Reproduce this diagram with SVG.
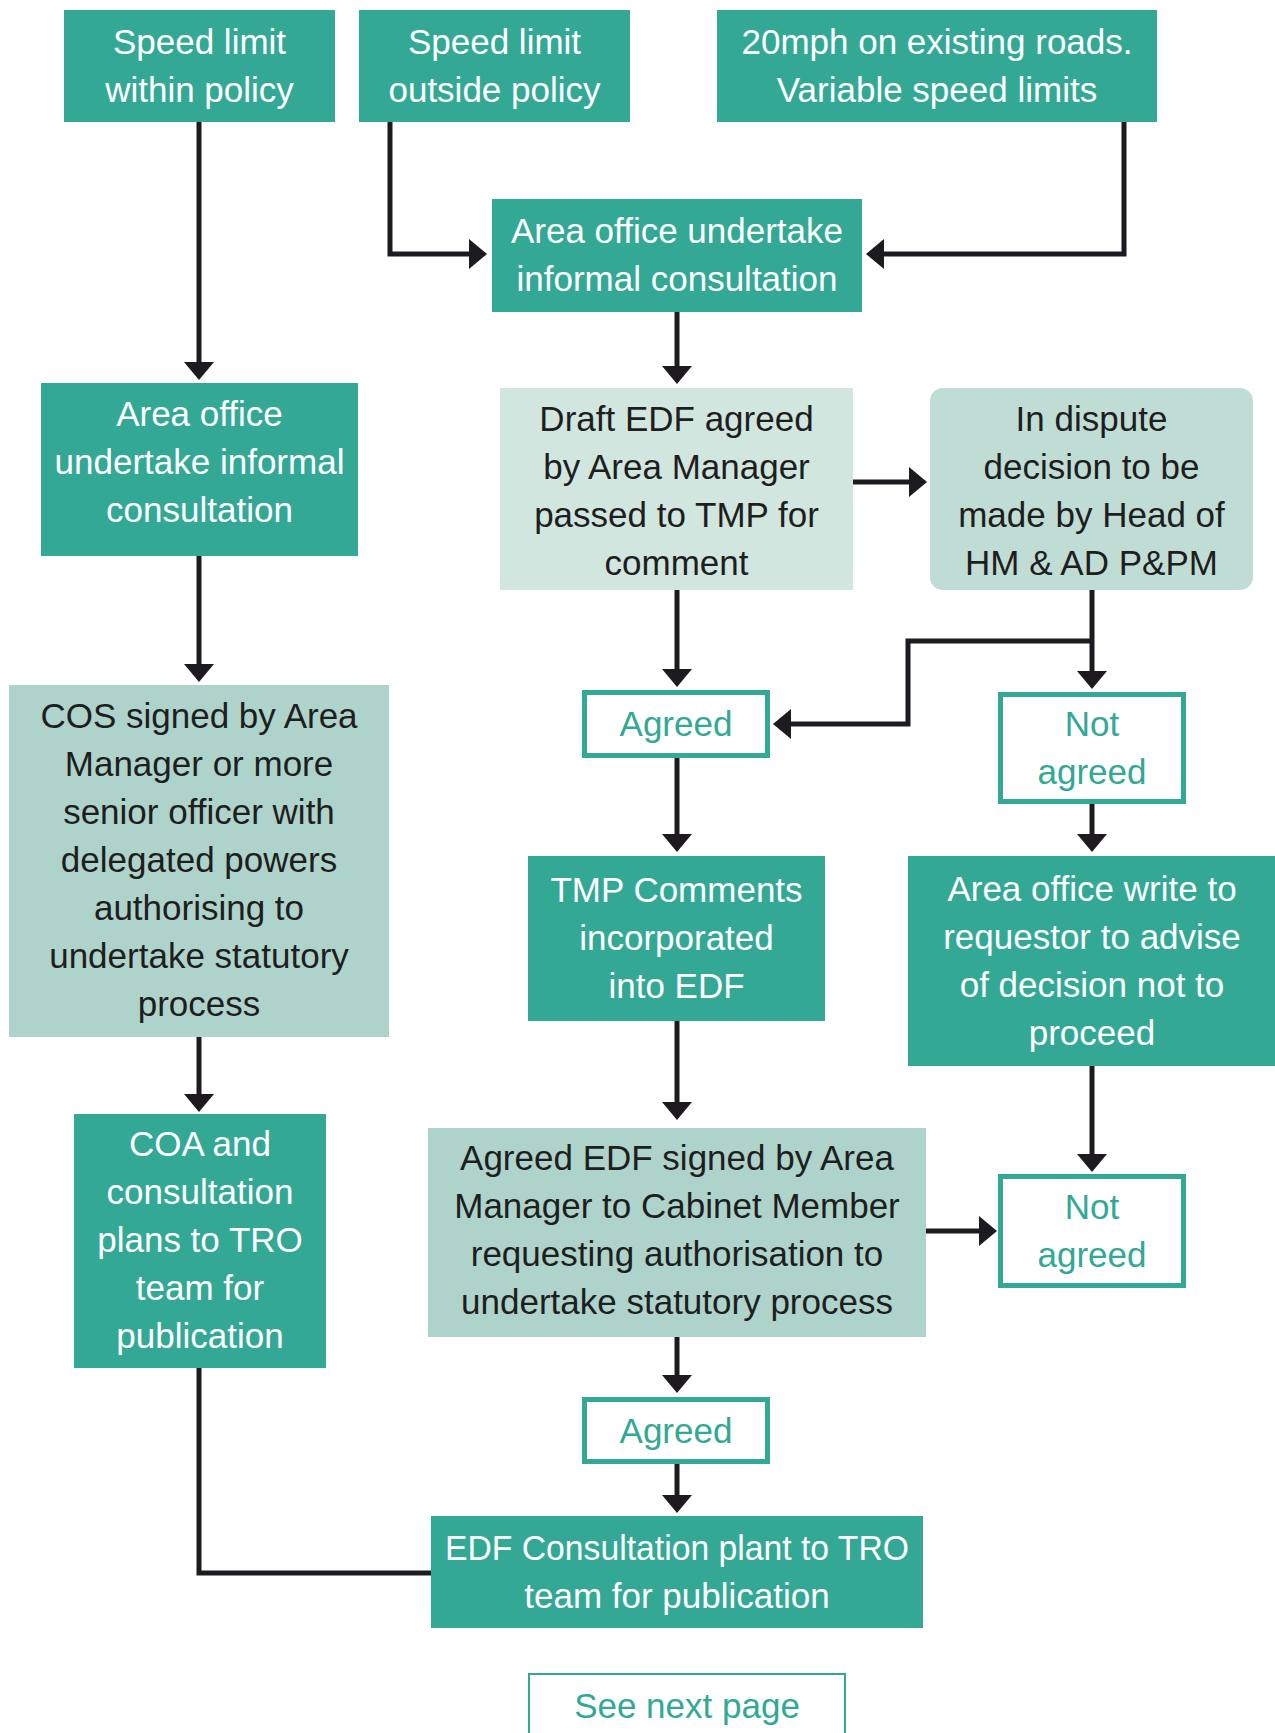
<svg xmlns="http://www.w3.org/2000/svg" width="1275" height="1733" viewBox="0 0 1275 1733">
<style>
.t{font-family:"Liberation Sans",Arial,sans-serif;font-size:35px;text-anchor:middle}
.w{fill:#ffffff}
.d{fill:#1e1e1e}
.g{fill:#33a995}
.teal{fill:#33a995}
.l1{fill:#d2e6e0}
.l2{fill:#c0ddd5}
.l3{fill:#aed3ca}
.ob{fill:#ffffff;stroke:#33a995;stroke-width:5}
.c{fill:none;stroke:#1d1b20;stroke-width:5;stroke-linejoin:miter;stroke-linecap:butt}
.a{marker-end:url(#ah)}
</style>
<defs>
<marker id="ah" markerUnits="userSpaceOnUse" markerWidth="19" markerHeight="30" refX="1" refY="15" orient="auto" viewBox="0 0 19 30">
<path d="M0,0 L18,15 L0,30 Z" fill="#1d1b20"/>
</marker>
</defs>
<rect width="1275" height="1733" fill="#ffffff"/>
<g id="connectors">
<path class="c a" d="M199,122 V363"/>
<path class="c a" d="M390,122 V254 H470"/>
<path class="c a" d="M1124,122 V254 H883"/>
<path class="c a" d="M677,312 V367"/>
<path class="c a" d="M853,482 H910"/>
<path class="c a" d="M199,556 V665"/>
<path class="c a" d="M677,590 V670"/>
<path class="c a" d="M1092,590 V672"/>
<path class="c a" d="M1092,641 H908 V724 H790"/>
<path class="c a" d="M677,758 V835"/>
<path class="c a" d="M1092,804 V835"/>
<path class="c a" d="M199,1037 V1095"/>
<path class="c a" d="M677,1021 V1103"/>
<path class="c a" d="M1092,1066 V1155"/>
<path class="c a" d="M926,1231 H980"/>
<path class="c a" d="M677,1337 V1376"/>
<path class="c a" d="M677,1464 V1496"/>
<path class="c" d="M199,1368 V1573 H431"/>
</g>
<g id="n1"><rect class="teal" x="64" y="10" width="271" height="112"/>
<text class="t w"><tspan x="199.5" y="54">Speed limit</tspan><tspan x="199.5" y="102">within policy</tspan></text></g>
<g id="n2"><rect class="teal" x="359" y="10" width="271" height="112"/>
<text class="t w"><tspan x="494.5" y="54">Speed limit</tspan><tspan x="494.5" y="102">outside policy</tspan></text></g>
<g id="n3"><rect class="teal" x="717" y="10" width="440" height="112"/>
<text class="t w"><tspan x="937" y="54">20mph on existing roads.</tspan><tspan x="937" y="102">Variable speed limits</tspan></text></g>
<g id="n4"><rect class="teal" x="492" y="199" width="370" height="113"/>
<text class="t w"><tspan x="677" y="243">Area office undertake</tspan><tspan x="677" y="291">informal consultation</tspan></text></g>
<g id="n5"><rect class="teal" x="41" y="383" width="317" height="173"/>
<text class="t w"><tspan x="199.5" y="426">Area office</tspan><tspan x="199.5" y="474">undertake informal</tspan><tspan x="199.5" y="522">consultation</tspan></text></g>
<g id="n6"><rect class="l1" x="500" y="388" width="353" height="202"/>
<text class="t d"><tspan x="676.5" y="431">Draft EDF agreed</tspan><tspan x="676.5" y="479">by Area Manager</tspan><tspan x="676.5" y="527">passed to TMP for</tspan><tspan x="676.5" y="575">comment</tspan></text></g>
<g id="n7"><rect class="l2" x="930" y="388" width="323" height="202" rx="13"/>
<text class="t d"><tspan x="1091.5" y="431">In dispute</tspan><tspan x="1091.5" y="479">decision to be</tspan><tspan x="1091.5" y="527">made by Head of</tspan><tspan x="1091.5" y="575">HM &amp; AD P&amp;PM</tspan></text></g>
<g id="n8"><rect class="l3" x="9" y="685" width="380" height="352"/>
<text class="t d"><tspan x="199" y="728">COS signed by Area</tspan><tspan x="199" y="776">Manager or more</tspan><tspan x="199" y="824">senior officer with</tspan><tspan x="199" y="872">delegated powers</tspan><tspan x="199" y="920">authorising to</tspan><tspan x="199" y="968">undertake statutory</tspan><tspan x="199" y="1016">process</tspan></text></g>
<g id="n9"><rect class="ob" x="584.5" y="692.5" width="183" height="63"/>
<text class="t g" x="676" y="736">Agreed</text></g>
<g id="n10"><rect class="ob" x="1000.5" y="694.5" width="183" height="107"/>
<text class="t g"><tspan x="1092" y="736">Not</tspan><tspan x="1092" y="784">agreed</tspan></text></g>
<g id="n11"><rect class="teal" x="528" y="856" width="297" height="165"/>
<text class="t w"><tspan x="676.5" y="902">TMP Comments</tspan><tspan x="676.5" y="950">incorporated</tspan><tspan x="676.5" y="998">into EDF</tspan></text></g>
<g id="n12"><rect class="teal" x="908" y="856" width="367" height="210"/>
<text class="t w"><tspan x="1092" y="901">Area office write to</tspan><tspan x="1092" y="949">requestor to advise</tspan><tspan x="1092" y="997">of decision not to</tspan><tspan x="1092" y="1045">proceed</tspan></text></g>
<g id="n13"><rect class="teal" x="74" y="1114" width="252" height="254"/>
<text class="t w"><tspan x="200" y="1156">COA and</tspan><tspan x="200" y="1204">consultation</tspan><tspan x="200" y="1252">plans to TRO</tspan><tspan x="200" y="1300">team for</tspan><tspan x="200" y="1348">publication</tspan></text></g>
<g id="n14"><rect class="l3" x="428" y="1128" width="498" height="209"/>
<text class="t d"><tspan x="677" y="1170">Agreed EDF signed by Area</tspan><tspan x="677" y="1218">Manager to Cabinet Member</tspan><tspan x="677" y="1266">requesting authorisation to</tspan><tspan x="677" y="1314">undertake statutory process</tspan></text></g>
<g id="n15"><rect class="ob" x="1000.5" y="1176.5" width="183" height="109"/>
<text class="t g"><tspan x="1092" y="1219">Not</tspan><tspan x="1092" y="1267">agreed</tspan></text></g>
<g id="n16"><rect class="ob" x="584.5" y="1399.5" width="183" height="62"/>
<text class="t g" x="676" y="1443">Agreed</text></g>
<g id="n17"><rect class="teal" x="431" y="1516" width="492" height="112"/>
<text class="t w"><tspan x="677" y="1560" textLength="464" lengthAdjust="spacingAndGlyphs">EDF Consultation plant to TRO</tspan><tspan x="677" y="1608">team for publication</tspan></text></g>
<g id="n18"><rect x="529" y="1674" width="316" height="70" fill="#ffffff" stroke="#33a995" stroke-width="2"/>
<text class="t g" x="687" y="1718">See next page</text></g>
</svg>
